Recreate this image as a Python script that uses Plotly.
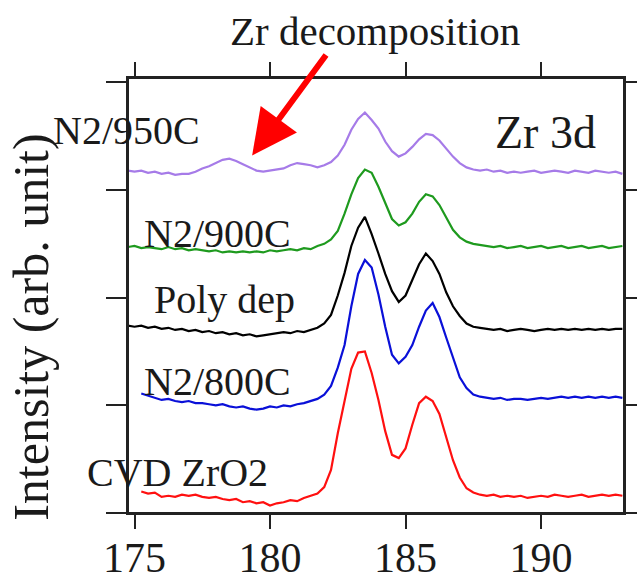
import plotly.graph_objects as go

# Binding energy grid (eV)
energy = [174.75, 175.0, 175.25, 175.5, 175.75, 176.0, 176.25, 176.5, 176.75, 177.0,
          177.25, 177.5, 177.75, 178.0, 178.25, 178.5, 178.75, 179.0, 179.25, 179.5,
          179.75, 180.0, 180.25, 180.5, 180.75, 181.0, 181.25, 181.5, 181.75, 182.0,
          182.25, 182.5, 182.75, 183.0, 183.25, 183.5, 183.75, 184.0, 184.25, 184.5,
          184.75, 185.0, 185.25, 185.5, 185.75, 186.0, 186.25, 186.5, 186.75, 187.0,
          187.25, 187.5, 187.75, 188.0, 188.25, 188.5, 188.75, 189.0, 189.25, 189.5,
          189.75, 190.0, 190.25, 190.5, 190.75, 191.0, 191.25, 191.5, 191.75, 192.0,
          192.25, 192.5, 192.75, 193.0]

cvd_zro2 = [None, None, 0.20, 0.18, 0.19, 0.15, 0.16, 0.15, 0.17, 0.16,
            0.17, 0.15, 0.14, 0.15, 0.13, 0.12, 0.13, 0.10, 0.11, 0.09,
            0.10, 0.07, 0.09, 0.10, 0.12, 0.11, 0.14, 0.16, 0.18, 0.24,
            0.40, 0.74, 1.05, 1.34, 1.49, 1.50, 1.30, 1.05, 0.76, 0.54,
            0.51, 0.60, 0.82, 1.02, 1.08, 1.04, 0.92, 0.70, 0.49, 0.33,
            0.23, 0.19, 0.17, 0.16, 0.17, 0.15, 0.16, 0.15, 0.16, 0.14,
            0.15, 0.16, 0.15, 0.17, 0.16, 0.15, 0.16, 0.17, 0.15, 0.16,
            0.17, 0.16, 0.17, 0.16]

n2_800c = [None, None, 1.11, 1.09, 1.07, 1.05, 1.06, 1.04, 1.03, 1.04,
           1.02, 1.02, 1.01, 1.00, 1.01, 0.99, 0.98, 0.99, 0.97, 0.96,
           0.97, 0.99, 0.98, 1.00, 0.99, 1.01, 1.02, 1.04, 1.06, 1.10,
           1.18, 1.35, 1.56, 1.92, 2.22, 2.35, 2.28, 2.03, 1.73, 1.47,
           1.39, 1.45, 1.56, 1.73, 1.88, 1.95, 1.82, 1.63, 1.44, 1.26,
           1.16, 1.10, 1.08, 1.07, 1.06, 1.07, 1.05, 1.06, 1.06, 1.05,
           1.06, 1.07, 1.06, 1.07, 1.08, 1.07, 1.08, 1.07, 1.08, 1.07,
           1.08, 1.07, 1.08, 1.07]

poly_dep = [1.74, 1.73, 1.74, 1.72, 1.73, 1.71, 1.72, 1.70, 1.71, 1.69,
            1.70, 1.68, 1.69, 1.67, 1.68, 1.66, 1.67, 1.65, 1.66, 1.64,
            1.65, 1.66, 1.67, 1.68, 1.67, 1.69, 1.68, 1.70, 1.72, 1.76,
            1.84, 2.02, 2.23, 2.48, 2.65, 2.75, 2.59, 2.41, 2.22, 2.06,
            1.96, 2.02, 2.16, 2.31, 2.41, 2.34, 2.22, 2.05, 1.92, 1.83,
            1.76, 1.73, 1.72, 1.71, 1.70, 1.71, 1.69, 1.70, 1.71, 1.70,
            1.69, 1.70, 1.71, 1.70, 1.71, 1.70, 1.71, 1.70, 1.71, 1.70,
            1.71, 1.70, 1.71, 1.71]

n2_900c = [2.47, 2.48, 2.46, 2.47, 2.46, 2.45, 2.47, 2.45, 2.46, 2.44,
           2.45, 2.44, 2.43, 2.44, 2.42, 2.43, 2.42, 2.43, 2.42, 2.43,
           2.42, 2.44, 2.43, 2.44, 2.45, 2.44, 2.46, 2.45, 2.48, 2.50,
           2.54, 2.62, 2.78, 2.96, 3.11, 3.19, 3.16, 3.03, 2.88, 2.73,
           2.67, 2.70, 2.78, 2.89, 2.96, 2.94, 2.86, 2.74, 2.63, 2.56,
           2.52, 2.50, 2.49, 2.48, 2.47, 2.48, 2.46, 2.47, 2.48, 2.46,
           2.47, 2.48, 2.46, 2.47, 2.48, 2.46, 2.47, 2.48, 2.46, 2.47,
           2.48, 2.46, 2.47, 2.48]

n2_950c = [3.18, 3.17, 3.18, 3.16, 3.17, 3.15, 3.16, 3.14, 3.15, 3.15,
           3.17, 3.20, 3.22, 3.25, 3.28, 3.29, 3.27, 3.24, 3.21, 3.18,
           3.17, 3.18, 3.19, 3.20, 3.23, 3.25, 3.24, 3.23, 3.21, 3.23,
           3.26, 3.32, 3.42, 3.56, 3.66, 3.72, 3.65, 3.57, 3.45, 3.36,
           3.31, 3.34, 3.40, 3.47, 3.52, 3.51, 3.46, 3.38, 3.31, 3.25,
           3.21, 3.19, 3.18, 3.19, 3.17, 3.18, 3.16, 3.17, 3.16, 3.17,
           3.18, 3.16, 3.17, 3.18, 3.17, 3.16, 3.18, 3.17, 3.16, 3.18,
           3.17, 3.16, 3.17, 3.15]

series_names = ["CVD ZrO2", "N2/800C", "Poly dep", "N2/900C", "N2/950C"]
series_values = [cvd_zro2, n2_800c, poly_dep, n2_900c, n2_950c]
series_colors = ["#ff1010", "#0a10d8", "#000000", "#1e9a1e", "#a67be8"]

x_ticks = [175, 180, 185, 190]
y_ticks = [0, 1, 2, 3, 4]

SERIF = "Liberation Serif, Times New Roman, serif"
TXT = "#1a1a1a"
AX = "#222222"

fig = go.Figure()
for name, vals, col in zip(series_names, series_values, series_colors):
    fig.add_trace(go.Scatter(x=energy, y=vals, mode="lines", name=name,
                             line=dict(color=col, width=2.2), connectgaps=False))

# curve labels (paper coordinates)
labels = [
    ("N2/950C", -0.155, 0.879),
    ("N2/900C", 0.028, 0.643),
    ("Poly dep", 0.048, 0.490),
    ("N2/800C", 0.028, 0.302),
    ("CVD ZrO2", -0.087, 0.093),
]
for txt, xp, yp in labels:
    fig.add_annotation(text=txt, xref="paper", yref="paper", x=xp, y=yp,
                       xanchor="left", yanchor="middle", showarrow=False,
                       font=dict(family=SERIF, size=40, color=TXT))

fig.add_annotation(text="Zr 3d", xref="paper", yref="paper", x=0.736, y=0.874,
                   xanchor="left", yanchor="middle", showarrow=False,
                   font=dict(family=SERIF, size=46, color=TXT))
fig.add_annotation(text="Zr decomposition", xref="paper", yref="paper", x=0.2016, y=1.109,
                   xanchor="left", yanchor="middle", showarrow=False,
                   font=dict(family=SERIF, size=41, color=TXT))
fig.add_annotation(text="Intensity (arb. unit)", xref="paper", yref="paper",
                   x=-0.1956, y=0.428, xanchor="center", yanchor="middle",
                   textangle=-90, showarrow=False,
                   font=dict(family=SERIF, size=50, color=TXT))
# red arrow
fig.add_annotation(text="", x=179.34, y=3.32, xref="x", yref="y",
                   showarrow=True, ax=75, ay=-102, arrowhead=2, arrowsize=1.5,
                   arrowwidth=6, arrowcolor="#ff0000", standoff=0)

# plot frame
fig.add_shape(type="rect", xref="paper", yref="paper", x0=0, y0=0, x1=1, y1=1,
              line=dict(color=AX, width=2), fillcolor="rgba(0,0,0,0)", layer="above")

fig.update_layout(
    template="none",
    width=637, height=581,
    margin=dict(l=128, r=13, t=78, b=68, autoexpand=False),
    paper_bgcolor="white", plot_bgcolor="white",
    showlegend=False,
    xaxis=dict(range=[174.76, 193.06], tickvals=x_ticks, ticktext=[str(t) for t in x_ticks],
               ticks="outside", ticklen=14, tickwidth=2, tickcolor=AX,
               showline=True, linewidth=2, linecolor=AX, mirror="ticks",
               showgrid=False, zeroline=False, automargin=False,
               ticklabelstandoff=-7,
               tickfont=dict(family=SERIF, size=42, color=TXT)),
    yaxis=dict(range=[0, 4.04], tickvals=y_ticks, showticklabels=False,
               ticks="outside", ticklen=20, tickwidth=2, tickcolor=AX,
               showline=True, linewidth=2, linecolor=AX, mirror="ticks",
               showgrid=False, zeroline=False, automargin=False),
)

fig.write_html("out.html", config={"displayModeBar": False},
               post_script="document.body.style.margin='0';document.body.style.overflow='hidden';")
